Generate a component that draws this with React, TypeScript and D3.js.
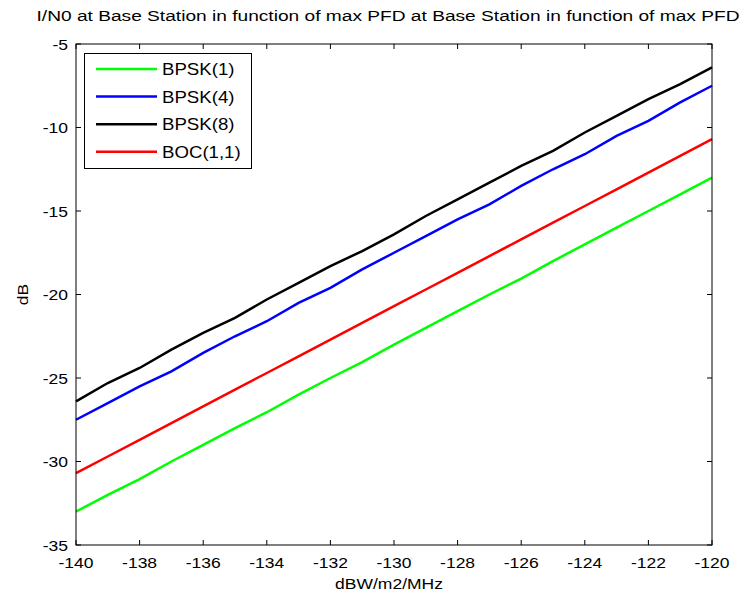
import React from "react";
import * as d3 from "d3";

const xValues = [-140, -139, -138, -137, -136, -135, -134, -133, -132, -131, -130, -129, -128, -127, -126, -125, -124, -123, -122, -121, -120];
const bpsk1 = [-33.0, -32.0, -31.05, -30.0, -29.0, -28.0, -27.05, -26.0, -25.0, -24.05, -23.0, -22.0, -21.0, -20.0, -19.05, -18.0, -17.0, -16.0, -15.0, -14.0, -13.0];
const bpsk4 = [-27.5, -26.5, -25.5, -24.6, -23.5, -22.5, -21.6, -20.5, -19.6, -18.5, -17.5, -16.5, -15.5, -14.6, -13.5, -12.5, -11.6, -10.5, -9.6, -8.5, -7.5];
const bpsk8 = [-26.4, -25.3, -24.4, -23.3, -22.3, -21.4, -20.3, -19.3, -18.3, -17.4, -16.4, -15.3, -14.3, -13.3, -12.3, -11.4, -10.3, -9.3, -8.3, -7.4, -6.4];
const boc11 = [-30.7, -29.7, -28.7, -27.7, -26.7, -25.7, -24.7, -23.7, -22.7, -21.7, -20.7, -19.7, -18.7, -17.7, -16.7, -15.7, -14.7, -13.7, -12.7, -11.7, -10.7];

const seriesNames = ["BPSK(1)", "BPSK(4)", "BPSK(8)", "BOC(1,1)"];
const seriesValues = [bpsk1, bpsk4, bpsk8, boc11];
const seriesColors = ["#00ff00", "#0000ff", "#000000", "#ff0000"];

const xTicks = [-140, -138, -136, -134, -132, -130, -128, -126, -124, -122, -120];
const yTicks = [-35, -30, -25, -20, -15, -10, -5];

const title = "I/N0 at Base Station in function of max PFD at Base Station in function of max PFD";
const xLabel = "dBW/m2/MHz";
const yLabel = "dB";

const SX = 1.13;

function T(props: { x: number; y: number; anchor?: string; size?: number; children: React.ReactNode; rotate?: boolean }) {
  const { x, y, anchor = "start", size = 15.5, children, rotate } = props;
  const tr = rotate ? `translate(${x},${y}) rotate(-90) scale(${SX},1)` : `translate(${x},${y}) scale(${SX},1)`;
  return (
    <text transform={tr} textAnchor={anchor as any} fontSize={size} fill="#000">{children}</text>
  );
}

export default function App() {
  const W = 747, H = 594;
  const left = 76, right = 712, top = 44, bottom = 545;
  const x = d3.scaleLinear().domain([-140, -120]).range([left, right]);
  const y = d3.scaleLinear().domain([-35, -5]).range([bottom, top]);
  const line = d3.line<number>().x((_, i) => x(xValues[i])).y((d) => y(d));
  const font = "Liberation Sans, Arial, sans-serif";
  const tl = 5;

  return (
    <svg width={W} height={H} style={{ position: "absolute", left: 0, top: 0 }} fontFamily={font}>
      <rect x={0} y={0} width={W} height={H} fill="#fff" />
      <text x={388} y={21} textAnchor="middle" fontSize={15.5} fill="#000" textLength={703} lengthAdjust="spacingAndGlyphs">{title}</text>
      {seriesValues.map((vals, i) => (
        <path key={i} d={line(vals) || ""} fill="none" stroke={seriesColors[i]} strokeWidth={2.5} />
      ))}
      <rect x={left} y={top} width={right - left} height={bottom - top} fill="none" stroke="#000" strokeWidth={1} />
      {xTicks.map((t) => (
        <g key={"x" + t}>
          <line x1={x(t)} x2={x(t)} y1={bottom} y2={bottom - tl} stroke="#000" />
          <line x1={x(t)} x2={x(t)} y1={top} y2={top + tl} stroke="#000" />
          <T x={x(t)} y={568} anchor="middle">{t}</T>
        </g>
      ))}
      {yTicks.map((t) => (
        <g key={"y" + t}>
          <line x1={left} x2={left + tl} y1={y(t)} y2={y(t)} stroke="#000" />
          <line x1={right} x2={right - tl} y1={y(t)} y2={y(t)} stroke="#000" />
          <T x={left - 8} y={y(t) + 5.5} anchor="end">{t}</T>
        </g>
      ))}
      <T x={389} y={589} anchor="middle">{xLabel}</T>
      <T x={28} y={(top + bottom) / 2} anchor="middle" rotate>{yLabel}</T>
      <g>
        <rect x={84.5} y={53.5} width={167} height={115} fill="#fff" stroke="#000" strokeWidth={1} />
        {seriesNames.map((n, i) => {
          const ry = 69 + i * 27.6;
          return (
            <g key={n}>
              <line x1={96} x2={157} y1={ry} y2={ry} stroke={seriesColors[i]} strokeWidth={2.5} />
              <T x={162} y={ry + 6} size={16.5}>{n}</T>
            </g>
          );
        })}
      </g>
    </svg>
  );
}
